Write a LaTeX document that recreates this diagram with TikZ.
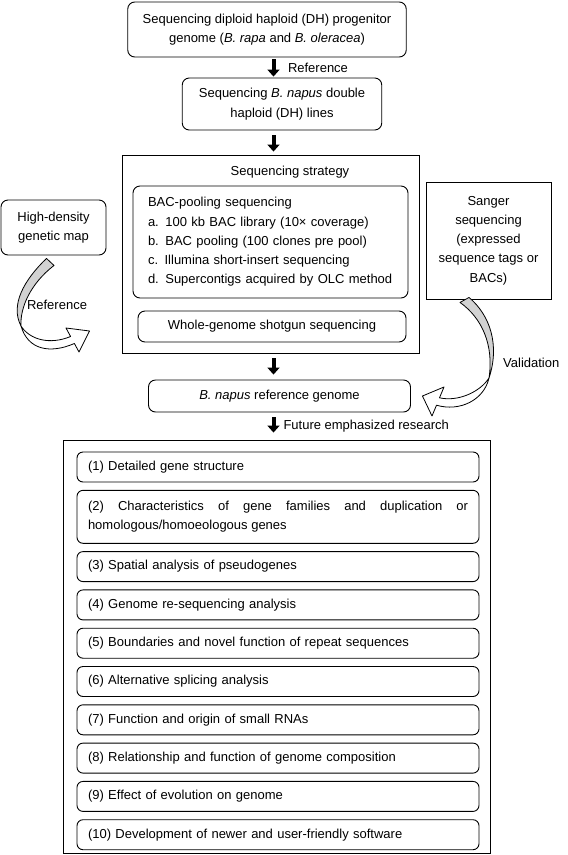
\documentclass[tikz,border=0pt]{standalone}
\usepackage{fontspec}
\setmainfont{Liberation Sans}
\usetikzlibrary{positioning, arrows.meta}

\begin{document}
\begin{tikzpicture}[
    x=1pt, y=-1pt,
    node distance=7.4pt,
    every node/.style={font=\fontsize{13}{19.3}\selectfont, inner sep=0pt},
    box/.style={rectangle, draw, line width=0.9pt, rounded corners=7pt, align=center},
    frame/.style={rectangle, draw, line width=0.9pt, align=center},
    item/.style={box, rounded corners=6pt, minimum width=402pt, minimum height=30pt, text width=380pt, align=left},
    down/.style={-{Triangle[length=7pt, width=12pt]}, line width=4pt},
    lbl/.style={right, inner sep=0pt},
    ribbon/.style={draw, line width=0.8pt, line join=round},
]
\useasboundingbox (0,0) rectangle (568,855);

% Main column
\node[box, minimum width=278.5pt, minimum height=55pt] (prog) at (267,29.5)
    {Sequencing diploid haploid (DH) progenitor\\genome (\textit{B. rapa} and \textit{B. oleracea})};
\node[box, minimum width=199.5pt, minimum height=52pt] (dh) at (282,104)
    {Sequencing \textit{B. napus} double\\haploid (DH) lines};

% Sequencing strategy
\node[frame, minimum width=297pt, minimum height=198pt] (strat) at (270.5,254) {};
\node (sttl) at (290,172) {Sequencing strategy};
\node[box, minimum width=275pt, minimum height=112pt, text width=245pt, align=left] (bac) at (270.5,242)
    {BAC-pooling sequencing\\
     a. 100 kb BAC library (10× coverage)\\
     b. BAC pooling (100 clones pre pool)\\
     c. Illumina short-insert sequencing\\
     d. Supercontigs acquired by OLC method};
\node[box, minimum width=268pt, minimum height=31pt] (wgs) at (272,326.5) {Whole-genome shotgun sequencing};

% Side boxes
\node[box, minimum width=105pt, minimum height=55pt] (hd) at (53.5,227.5) {High-density\\genetic map};
\node[frame, minimum width=125pt, minimum height=117pt] (sg) at (488.5,240.5)
    {Sanger\\sequencing\\(expressed\\sequence tags or\\BACs)};

\node[box, minimum width=262pt, minimum height=32pt] (bn) at (279.5,396) {\textit{B. napus} reference genome};

% Future research
\node[frame, minimum width=427pt, minimum height=413pt] (fut) at (276.5,646.5) {};
\node[item] (i1) at (278,467) {(1) Detailed gene structure};
\node[item, below=of i1, minimum height=53pt, align=justify] (i2)
    {\hyphenpenalty=10000 \tolerance=10000 (2) Characteristics of gene families and duplication or \mbox{homologous/homoeologous} genes};
\node[item, below=of i2] (i3) {(3) Spatial analysis of pseudogenes};
\node[item, below=of i3] (i4) {(4) Genome re-sequencing analysis};
\node[item, below=of i4] (i5) {(5) Boundaries and novel function of repeat sequences};
\node[item, below=of i5] (i6) {(6) Alternative splicing analysis};
\node[item, below=of i6] (i7) {(7) Function and origin of small RNAs};
\node[item, below=of i7] (i8) {(8) Relationship and function of genome composition};
\node[item, below=of i8] (i9) {(9) Effect of evolution on genome};
\node[item, below=of i9] (i10) {(10) Development of newer and user-friendly software};

% Down arrows
\coordinate (ax) at (273.5,0);
\draw[down, shorten <=2pt, shorten >=1pt] (prog.south -| ax) -- node[lbl, xshift=12.5pt]{Reference} (dh.north -| ax);
\draw[down, shorten <=5pt, shorten >=3pt] (dh.south -| ax) -- (strat.north -| ax);
\draw[down, shorten <=5pt, shorten >=5pt] (strat.south -| ax) -- (bn.north -| ax);
\draw[down, shorten <=5pt, shorten >=7pt] (bn.south -| ax) -- node[lbl, xshift=8pt]{Future emphasized research} (fut.north -| ax);

% Twisted ribbon: genetic map -> strategy
\coordinate (ls1) at ([xshift=-7pt, yshift=-3pt]hd.south);
\coordinate (ls2) at ([xshift=0.5pt, yshift=-10pt]hd.south);
\coordinate (lt) at (21,326);
\coordinate (lh) at ([xshift=-32pt, yshift=-77pt]strat.west);
\path[ribbon, fill=white] (lt) .. controls (28,350) and (50,354) .. (74.4,343.5) -- (79,352) -- (lh)
    -- (66,328) -- (70.6,336.5) .. controls (50,345) and (30,340) .. (lt) -- cycle;
\path[ribbon, fill=gray!35] (ls1) .. controls (24,280) and (10,305) .. (lt)
    .. controls (20,308) and (30,284) .. (ls2) -- cycle;
\node (lref) at (57,305) {Reference};

% Twisted ribbon: Sanger -> reference genome
\coordinate (rs1) at ([xshift=-28.5pt, yshift=-3pt]sg.south);
\coordinate (rs2) at ([xshift=-19.5pt, yshift=2pt]sg.south);
\coordinate (rt) at (489,378);
\coordinate (rh) at ([xshift=11.5pt]bn.east);
\path[ribbon, fill=white] (rt) .. controls (484,400) and (460,412) .. (436.5,405.2) -- (432,416) -- (rh)
    -- (444,387) -- (439.5,397.8) .. controls (458,402) and (480,392) .. (rt) -- cycle;
\path[ribbon, fill=gray!35] (rs2) .. controls (490,315) and (500,345) .. (rt)
    .. controls (494,345) and (482,318) .. (rs1) -- cycle;
\node[anchor=west] (valid) at (503,363) {Validation};

\end{tikzpicture}
\end{document}
